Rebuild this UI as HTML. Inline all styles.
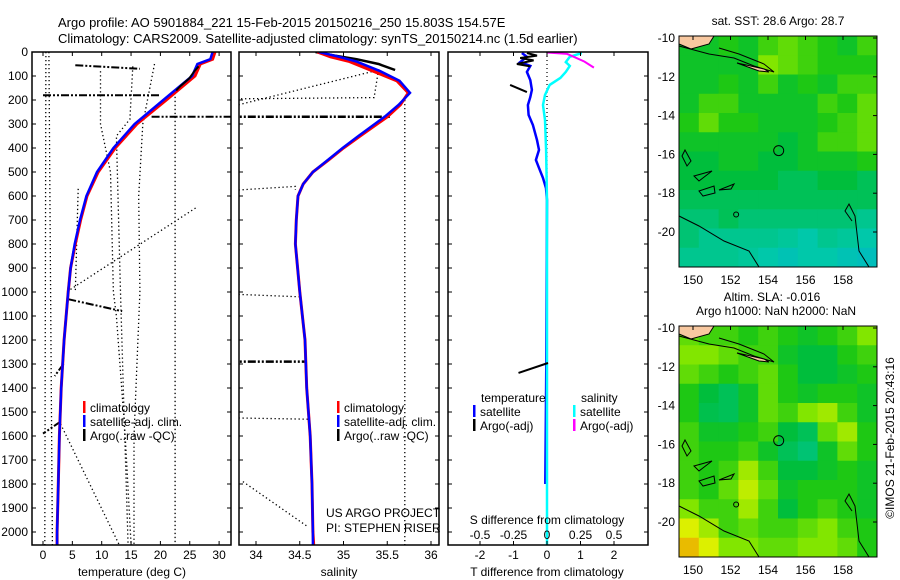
<!DOCTYPE html>
<html><head><meta charset="utf-8">
<style>
body{margin:0;background:#fff;}
svg{display:block;font-family:"Liberation Sans",sans-serif;}
text{font-size:12px;fill:#000;}
</style></head>
<body>
<svg id="chart" width="900" height="580" viewBox="0 0 900 580" xmlns="http://www.w3.org/2000/svg">
<rect width="900" height="580" fill="#fff"/>
<text x="58" y="27" font-size="13" style="font-size:13px">Argo profile: AO 5901884_221 15-Feb-2015 20150216_250 15.803S 154.57E</text>
<text x="58" y="43" style="font-size:13px">Climatology: CARS2009. Satellite-adjusted climatology: synTS_20150214.nc (1.5d earlier)</text>
<g id="g"></g>
</svg>
<script>
// ---- data ----
const depthTicks=[0,100,200,300,400,500,600,700,800,900,1000,1100,1200,1300,1400,1500,1600,1700,1800,1900,2000];
const tempTicks=[0,5,10,15,20,25,30];
const salTicks=[34,34.5,35,35.5,36];
const tdTicks=[-2,-1,0,1,2];
const sdTicks=[-0.5,-0.25,0,0.25,0.5];
const sdTickLabels=["-0.5","-0.25","0","0.25","0.5"];

const climDepth=[0,30,50,100,200,300,400,500,600,700,800,900,1000,1200,1400,1600,1800,2000,2054];
const climTemp=[29.3,28.9,26.8,25.9,21,16,12.3,9.4,7.5,6.4,5.5,4.7,4.3,3.6,3.1,2.8,2.6,2.4,2.4];
const satTemp=[28.9,28.5,26.3,25.4,20.5,15.6,12.0,9.2,7.4,6.3,5.4,4.7,4.3,3.6,3.1,2.8,2.6,2.4,2.4];

const salDepth=[0,20,40,80,120,170,220,270,350,400,450,500,550,600,700,800,1000,1200,1400,1600,1800,2000,2054];
const climSal=[34.70,34.85,35.07,35.34,35.61,35.74,35.65,35.5,35.19,35.0,34.83,34.65,34.54,34.48,34.46,34.45,34.5,34.56,34.58,34.62,34.64,34.65,34.66];
const satSal=[34.72,34.95,35.15,35.42,35.64,35.76,35.63,35.47,35.17,34.99,34.82,34.65,34.54,34.48,34.46,34.45,34.5,34.56,34.58,34.62,34.64,34.65,34.65];

const argoTDepth=[60,80,110,140,160];
const argoTemp=[26.5,25.8,24.9,23.5,22.7];
const argoSDepth=[0,15,30,50,75];
const argoSal=[34.68,34.9,35.15,35.4,35.59];

const tdDepth=[4,20,42,58,83,117,158,188,221,262,304,367,408,450,483,525,567,617,1300,1800];
const tdSat=[-0.75,-0.6,-0.8,-0.5,-0.6,-0.5,-0.45,-0.5,-0.57,-0.55,-0.42,-0.3,-0.24,-0.33,-0.24,-0.12,-0.03,0,-0.02,-0.05];
const sdDepth=[4,20,42,58,83,108,137,179,221,283,408,617,2054];
const sdSat=[0.26,0.17,0.14,0.17,0.14,0.1,0.02,-0.015,-0.03,-0.015,-0.007,0,0];
const tdArgoDepth=[4,15,25,35,50,60];
const tdArgo=[-0.6,-0.3,-0.8,-0.4,-0.9,-0.5];
const tdArgo2Depth=[137,167];
const tdArgo2=[-1.1,-0.6];
const tdArgo3Depth=[1337,1296];
const tdArgo3=[-0.85,0.03];
const sdArgoDepth=[2,8,20,40,65];
const sdArgo=[0.0,0.15,0.2,0.28,0.35];

// dotted envelope lines (temperature): pairs depth/temp
const dotT=[
 [[0,2054],[0.5,0.3]],
 [[0,2054],[1.0,1.6]],
 [[80,300,500,1000,1100,1600,2054],[9.8,9.8,11.5,12,12.5,14,15]],
 [[60,280,350,1000,1500,2054],[15.3,14.8,12.5,13.2,13.8,14.5]],
 [[50,300,600,1000,1600,2054],[19,17,16.3,16.5,15.5,15.5]],
 [[170,2054],[22.5,22.5]],
 [[650,1000],[26,4]],
 [[1550,2054],[3,13]],
 [[570,1000],[6,5.5]]
];
const dotS=[
 [[220,75,190,195],[33.8,35.4,35.35,33.8]],
 [[200,2054],[35.7,35.7]],
 [[575,560,575],[33.8,34.45,34.45]],
 [[1010,1020],[33.8,34.5]],
 [[1525,1530],[33.8,34.6]],
 [[1790,1980],[33.85,34.6]]
];
// dash-dot Argo raw spikes
const spikeT=[[[180,180],[0,20]],[[270,270],[18.5,32]],[[55,70],[5.5,16.5]],[[1030,1080],[4.3,13.5]],[[1300,1350],[3.5,2]],[[1540,1590],[3,0]]];
const spikeS=[[[270,270],[33.7,35.53]],[[1290,1290],[33.7,34.57]]];

// maps: coarse cell values (0 blue .. 1 orange)
const sstGrid=[
[0.5,0.5,0.55,0.5,0.6,0.65,0.6,0.55,0.5,0.6],
[0.5,0.5,0.5,0.5,0.7,0.65,0.6,0.55,0.55,0.55],
[0.5,0.5,0.55,0.5,0.6,0.5,0.55,0.5,0.6,0.6],
[0.5,0.6,0.6,0.5,0.5,0.5,0.5,0.6,0.55,0.65],
[0.55,0.65,0.55,0.55,0.5,0.5,0.5,0.55,0.6,0.65],
[0.5,0.5,0.5,0.5,0.5,0.45,0.5,0.6,0.6,0.65],
[0.45,0.45,0.5,0.5,0.45,0.45,0.5,0.5,0.5,0.55],
[0.45,0.45,0.45,0.45,0.45,0.4,0.4,0.45,0.45,0.4],
[0.4,0.4,0.4,0.4,0.4,0.4,0.4,0.4,0.4,0.4],
[0.35,0.35,0.4,0.35,0.35,0.35,0.35,0.35,0.35,0.3],
[0.35,0.3,0.3,0.3,0.3,0.28,0.25,0.3,0.28,0.25],
[0.3,0.3,0.3,0.28,0.25,0.22,0.25,0.25,0.22,0.2]];
const slaGrid=[
[0.65,0.6,0.6,0.55,0.6,0.55,0.5,0.55,0.6,0.7],
[0.7,0.7,0.65,0.6,0.6,0.5,0.45,0.45,0.55,0.6],
[0.65,0.6,0.55,0.6,0.65,0.55,0.45,0.45,0.5,0.55],
[0.55,0.45,0.4,0.5,0.65,0.55,0.5,0.55,0.55,0.5],
[0.55,0.42,0.4,0.5,0.65,0.6,0.7,0.75,0.6,0.5],
[0.6,0.5,0.5,0.55,0.6,0.45,0.4,0.65,0.75,0.55],
[0.6,0.55,0.55,0.6,0.5,0.4,0.35,0.5,0.65,0.55],
[0.6,0.55,0.6,0.75,0.6,0.45,0.45,0.5,0.55,0.5],
[0.6,0.55,0.65,0.8,0.65,0.5,0.55,0.55,0.55,0.5],
[0.7,0.6,0.6,0.75,0.6,0.45,0.55,0.6,0.55,0.5],
[0.85,0.75,0.6,0.65,0.6,0.6,0.65,0.7,0.6,0.55],
[0.95,0.85,0.7,0.7,0.65,0.65,0.7,0.7,0.65,0.55]];
const lonTicks=[150,152,154,156,158];
const latTicks=[-10,-12,-14,-16,-18,-20];

// ---- scales ----
const yD=d=>52+d*0.24;
const xT=t=>43+t*5.87;
const xS=s=>256+(s-34)*87.5;
const xTd=v=>547+v*33.5;
const xSd=v=>547+v*134;
const NS='http://www.w3.org/2000/svg';
const G=document.getElementById('g');
function mk(tag,attrs,parent){const e=document.createElementNS(NS,tag);for(const k in attrs)e.setAttribute(k,attrs[k]);(parent||G).appendChild(e);return e;}
function txt(x,y,s,anchor,parent){const e=mk('text',{x:x,y:y,'text-anchor':anchor||'start'},parent);e.textContent=s;return e;}
function pts(ds,vs,fx){return ds.map((d,i)=>fx(vs[i]).toFixed(1)+','+yD(d).toFixed(1)).join(' ');}

const panels=[{x0:32,x1:231,name:'temperature-panel'},{x0:239,x1:439,name:'salinity-panel'},{x0:448,x1:648,name:'difference-panel'}];
const clips=mk('defs',{});
panels.forEach((p,i)=>{const c=mk('clipPath',{id:'c'+i},clips);mk('rect',{x:p.x0,y:52,width:p.x1-p.x0,height:493},c);});

// depth ticks & labels
depthTicks.forEach(d=>{
  const t=txt(28,yD(d)+4,String(d),'end');
  
  
  panels.forEach(p=>{
    mk('line',{x1:p.x0,x2:p.x0+4,y1:yD(d),y2:yD(d),stroke:'#000'});
    mk('line',{x1:p.x1-4,x2:p.x1,y1:yD(d),y2:yD(d),stroke:'#000'});
  });
});

function line(ds,vs,fx,color,w,clip,name,dash){
  const e=mk('polyline',{points:pts(ds,vs,fx),fill:'none',stroke:color,'stroke-width':w,'clip-path':'url(#c'+clip+')'});
  if(dash)e.setAttribute('stroke-dasharray',dash);
  
  
  return e;
}
// temperature panel
dotT.forEach(l=>line(l[0],l[1],xT,'#000',1.3,0,'temp-envelope-dotted','1.3 2.7'));
spikeT.forEach(l=>line(l[0],l[1],xT,'#000',2,0,'argo-raw-temp-spike','8 2 2 2 2 2'));
line(climDepth,climTemp,xT,'#f00',3,0,'climatology-temp-line');
line(climDepth,satTemp,xT,'#00f',2.5,0,'satellite-temp-line');
line(argoTDepth,argoTemp,xT,'#000',2,0,'argo-temp-line');
// salinity panel
dotS.forEach(l=>line(l[0],l[1],xS,'#000',1.3,1,'sal-envelope-dotted','1.3 2.7'));
spikeS.forEach(l=>line(l[0],l[1],xS,'#000',2.5,1,'argo-raw-sal-spike','8 2 2 2 2 2'));
line(argoSDepth,argoSal,xS,'#000',2.5,1,'argo-sal-line');
line(salDepth,climSal,xS,'#f00',3,1,'climatology-sal-line');
line(salDepth,satSal,xS,'#00f',2.5,1,'satellite-sal-line');
// difference panel
line([0,2054],[0,0],xTd,'#000',1.2,2,'zero-reference-dotted','1 3');
line(tdDepth,tdSat,xTd,'#00f',2.5,2,'temp-diff-satellite-line');
line(sdDepth,sdSat,xSd,'#0ff',2.5,2,'sal-diff-satellite-line');
line(tdArgoDepth,tdArgo,xTd,'#000',2,2,'temp-diff-argo-line');
line(tdArgo2Depth,tdArgo2,xTd,'#000',2,2,'temp-diff-argo-line');
line(tdArgo3Depth,tdArgo3,xTd,'#000',2,2,'temp-diff-argo-line');
line(sdArgoDepth,sdArgo,xSd,'#f0f',2,2,'sal-diff-argo-line');

// frames
panels.forEach(p=>{const r=mk('rect',{x:p.x0,y:52,width:p.x1-p.x0,height:493,fill:'none',stroke:'#000','stroke-width':1.5});

});

// x ticks
function xticks(vals,labels,fx,y,p,name,top){
  vals.forEach((v,i)=>{
    const x=fx(v);
    mk('line',{x1:x,x2:x,y1:545,y2:541,stroke:'#000'});
    if(top)mk('line',{x1:x,x2:x,y1:52,y2:56,stroke:'#000'});
    const t=txt(x,y,labels[i],'middle');
    
    
  });
}
xticks(tempTicks,tempTicks.map(String),xT,559,0,'temp-tick-label',true);
xticks(salTicks,salTicks.map(String),xS,559,1,'sal-tick-label',true);
xticks(tdTicks,tdTicks.map(String),xTd,559,2,'tdiff-tick-label',true);
sdTicks.forEach((v,i)=>{const t=txt(xSd(v),539,sdTickLabels[i],'middle');

});
[['temperature (deg C)',132,'temp-axis-title'],['salinity',339,'sal-axis-title'],['T difference from climatology',547,'tdiff-axis-title']].forEach(a=>{
 const t=txt(a[1],576,a[0],'middle');});
{const t=txt(547,524,'S difference from climatology','middle');}
{const t=txt(326,517,'US ARGO PROJECT');
 const t2=txt(326,532,'PI: STEPHEN RISER');}

// legends
function legend(x,y,color,label){
  const g=mk('g',{});
  
  
  mk('rect',{x:x,y:y-11,width:2.5,height:12,fill:color},g);
  txt(x+7,y,label,'start',g);
}
legend(83,412,'#f00','climatology');legend(83,426,'#00f','satellite-adj. clim.');legend(83,440,'#000','Argo(..raw -QC)');
legend(337,412,'#f00','climatology');legend(337,426,'#00f','satellite-adj. clim.');legend(337,440,'#000','Argo(..raw -QC)');
{const t=txt(481,402,'temperature');
 const t2=txt(581,402,'salinity');}
legend(473,416,'#00f','satellite');legend(473,430,'#000','Argo(-adj)');
legend(573,416,'#0ff','satellite');legend(573,430,'#f0f','Argo(-adj)');

// maps
function col(v){
  const stops=[[0,[0,150,255]],[0.25,[0,200,170]],[0.45,[0,190,60]],[0.55,[30,200,20]],[0.7,[130,230,0]],[0.85,[220,240,0]],[1,[240,160,0]]];
  for(let i=1;i<stops.length;i++){if(v<=stops[i][0]){const a=stops[i-1],b=stops[i],f=(v-a[0])/(b[0]-a[0]);
    return 'rgb('+a[1].map((c,k)=>Math.round(c+(b[1][k]-c)*f)).join(',')+')';}}
  return 'rgb(240,160,0)';
}
function map(y0,grid,name,top){
  const x0=679,x1=877,y1=y0+231;
  const lonX=l=>693+(l-150)*18.75, latY=l=>y0+2+(-10-l)*19.4;
  const g=mk('g',{});
  
  
  const cw=(x1-x0)/grid[0].length, ch=(y1-y0)/grid.length;
  grid.forEach((row,r)=>row.forEach((v,c)=>{
    const cell=mk('rect',{x:x0+c*cw,y:y0+r*ch,width:cw+0.5,height:ch+0.5,fill:col(v)},g);
    
    
  }));
  // land + coast
  mk('path',{d:`M${x0} ${y0} L${x0+35} ${y0} L${x0+30} ${y0+8} L${x0+12} ${y0+13} L${x0} ${y0+8}Z`,fill:'#f8c8a0',stroke:'#000'},g);
  mk('path',{d:`M${x0} ${y0+10} L${x0+30} ${y0+18} L${x0+55} ${y0+22} L${x0+75} ${y0+30} L${x0+95} ${y0+36} L${x0+85} ${y0+28} L${x0+60} ${y0+18} L${x0+40} ${y0+12}`,fill:'none',stroke:'#000'},g);
  mk('path',{d:`M${x0+58} ${y0+27} L${x0+85} ${y0+33} L${x0+90} ${y0+36} L${x0+80} ${y0+35}Z`,fill:'#f8c8a0',stroke:'#000'},g);
  mk('path',{d:`M${x0} ${y0+180} L${x0+20} ${y0+190} L${x0+45} ${y0+205} L${x0+70} ${y0+215} L${x0+80} ${y0+231}`,fill:'none',stroke:'#000'},g);
  mk('path',{d:`M${x0+173} ${y0+240-55} L${x0+166} ${y0+175} L${x0+170} ${y0+168} L${x0+176} ${y0+180} L${x0+180} ${y0+215} L${x0+190} ${y0+231}`,fill:'none',stroke:'#000'},g);
  mk('path',{d:`M${x0+6} ${y0+114} L${x0+12} ${y0+125} L${x0+8} ${y0+130} L${x0+3} ${y0+120}Z M${x0+15} ${y0+140} L${x0+33} ${y0+135} L${x0+20} ${y0+145}Z M${x0+20} ${y0+155} L${x0+35} ${y0+150} L${x0+36} ${y0+157} L${x0+24} ${y0+160}Z M${x0+40} ${y0+154} L${x0+55} ${y0+148} L${x0+52} ${y0+153}Z`,fill:'none',stroke:'#000'},g);
  mk('circle',{cx:lonX(154.57),cy:latY(-15.803),r:5,fill:'none',stroke:'#000'},g);
  mk('circle',{cx:lonX(152.3),cy:latY(-19.1),r:2.5,fill:'none',stroke:'#000'},g);
  mk('rect',{x:x0,y:y0,width:x1-x0,height:y1-y0,fill:'none',stroke:'#000'},g);
  lonTicks.forEach(l=>{mk('line',{x1:lonX(l),x2:lonX(l),y1:y0,y2:y0+4,stroke:'#000'},g);
    const t=txt(lonX(l),y1+17,String(l),'middle',g);});
  latTicks.forEach(l=>{mk('line',{x1:x1,x2:x1-4,y1:latY(l),y2:latY(l),stroke:'#000'},g);
    const t=txt(x0-4,latY(l)+4,String(l),'end',g);});
}
map(36,sstGrid,'sst-map');
map(326,slaGrid,'sla-map');
{const t=txt(778,25,'sat. SST: 28.6 Argo: 28.7','middle');
 const t2=txt(772,301,'Altim. SLA: -0.016','middle');
 const t3=txt(776,315,'Argo h1000: NaN h2000: NaN','middle');
 const t4=txt(0,0,'©IMOS 21-Feb-2015 20:43:16','middle');t4.setAttribute('transform','translate(894,438) rotate(-90)');
 }
</script>
</body></html>
